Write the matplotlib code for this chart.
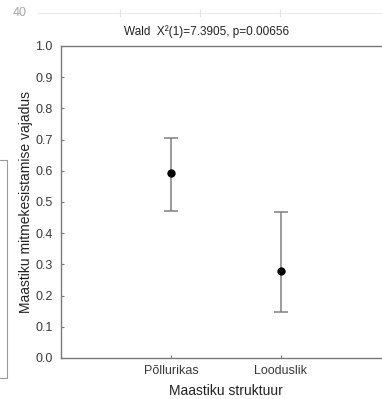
import matplotlib
matplotlib.use("Agg")
import matplotlib.pyplot as plt

# ==========================================
# Data
# ==========================================

categories = ["Põllurikas", "Looduslik"]
means = [0.594, 0.279]
upper = [0.706, 0.468]
lower = [0.472, 0.146]

y_ticks = [0.0, 0.1, 0.2, 0.3, 0.4, 0.5, 0.6, 0.7, 0.8, 0.9, 1.0]
title = "Wald  X²(1)=7.3905, p=0.00656"

plt.rcParams["font.family"] = ["Liberation Sans", "DejaVu Sans"]

# ==========================================
# Figure
# ==========================================

fig = plt.figure(figsize=(3.82, 3.99), dpi=100)

# faint remains of the neighbouring chart
fig.text(13 / 382, 1 - 13 / 399, "40", fontsize=9, color="#a8a8a8",
         va="center", ha="left")
fig.add_artist(plt.Line2D([38 / 382, 1], [1 - 13 / 399, 1 - 13 / 399],
                          color="#ececec", lw=0.8))
for gx in [120, 200, 280]:
    fig.add_artist(plt.Line2D([gx / 382, gx / 382],
                              [1 - 10 / 399, 1 - 16 / 399],
                              color="#e4e4e4", lw=0.8))
fig.add_artist(plt.Line2D([0, 7 / 382, 7 / 382, 0],
                          [1 - 160 / 399, 1 - 160 / 399,
                           1 - 378 / 399, 1 - 378 / 399],
                          color="#9a9a9a", lw=0.8))

ax = fig.add_axes([61 / 382, 1 - 358 / 399, 330 / 382, 312 / 399])

x = list(range(len(categories)))
err_lo = [m - l for m, l in zip(means, lower)]
err_hi = [u - m for m, u in zip(means, upper)]

ax.errorbar(x, means, yerr=[err_lo, err_hi], fmt="o", color="black",
            markersize=5, ecolor="#808080", elinewidth=1.1,
            capsize=5, capthick=1.1, zorder=3)

ax.set_xlim(-1, 2)
ax.set_ylim(0, 1)
ax.set_xticks(x)
ax.set_xticklabels(categories)
ax.set_yticks(y_ticks)
ax.set_yticklabels([f"{t:.1f}" for t in y_ticks])

for s in ax.spines.values():
    s.set_color("#7a7a7a")
    s.set_linewidth(1.0)

ax.tick_params(direction="in", length=2, width=0.8, color="#7a7a7a",
               labelsize=9, labelcolor="#3a3a3a", pad=6)
ax.tick_params(axis="x", pad=5)

ax.set_title(title, fontsize=8.5, color="#222222", pad=8, x=0.44)
ax.set_xlabel("Maastiku struktuur", fontsize=10, color="#222222", labelpad=5)
ax.set_ylabel("Maastiku mitmekesistamise vajadus", fontsize=10,
              color="#222222", labelpad=2)

plt.savefig("out.png", dpi=100)
plt.close()
